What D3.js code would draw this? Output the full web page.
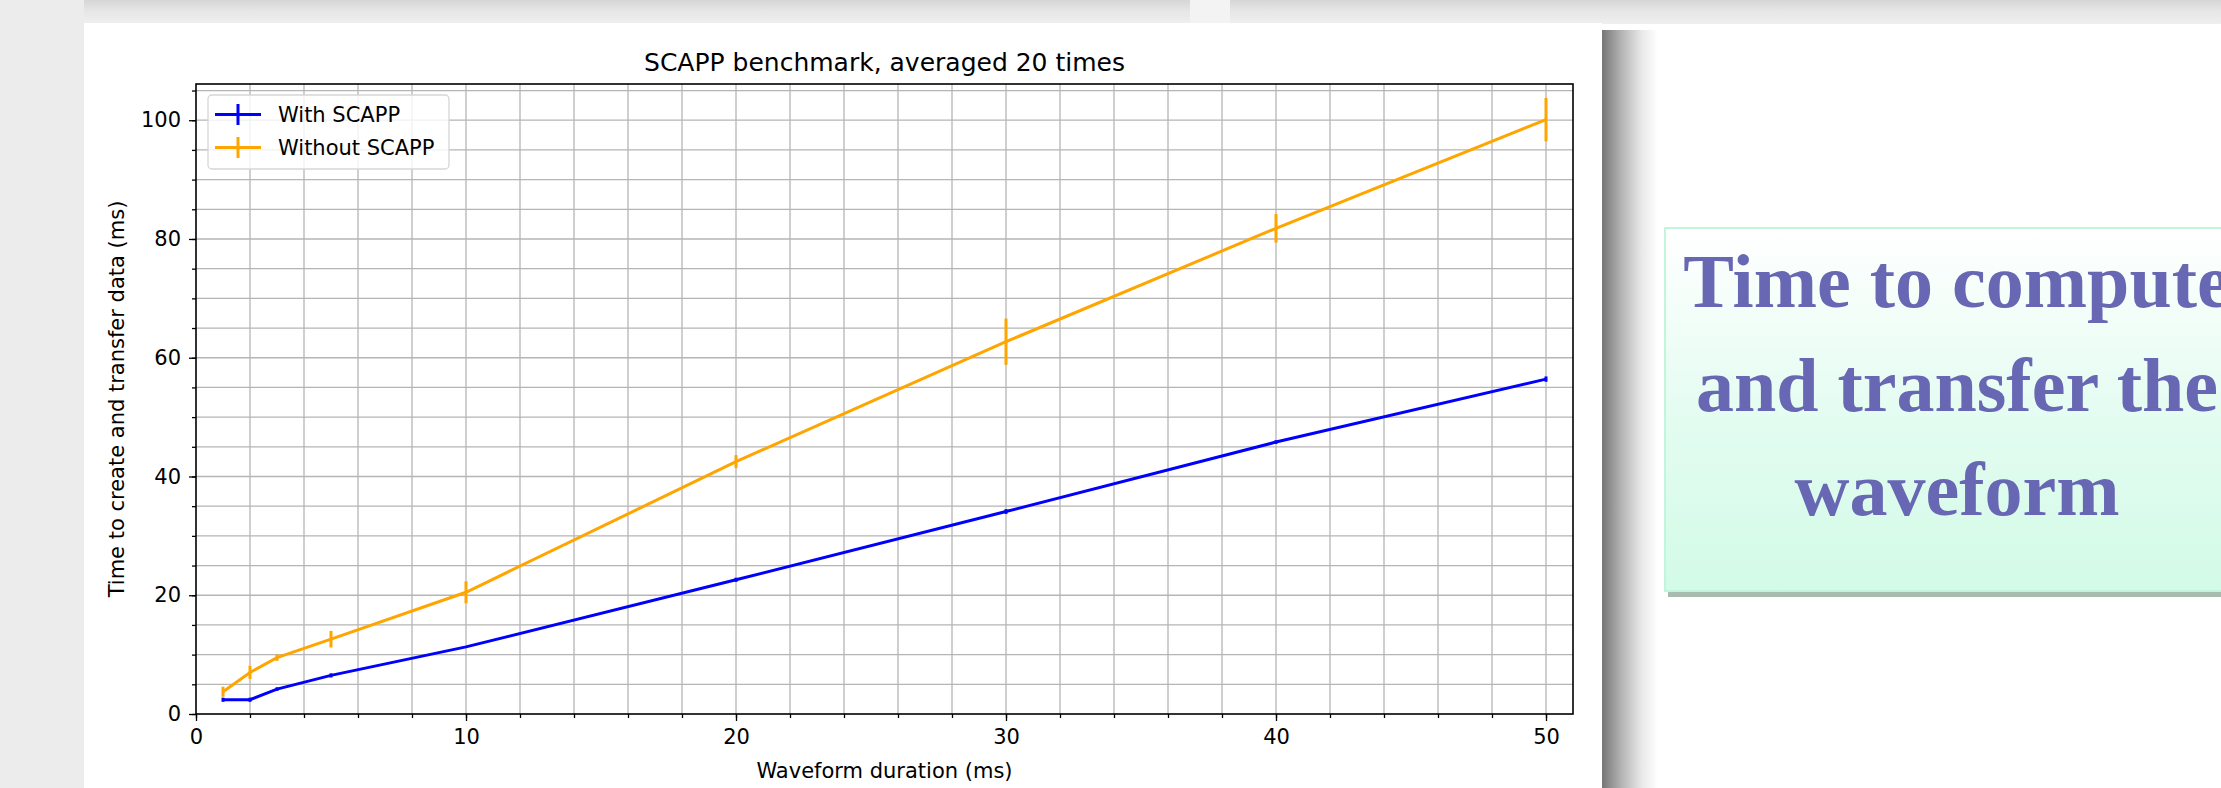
<!DOCTYPE html>
<html>
<head>
<meta charset="utf-8">
<script src="https://cdn.jsdelivr.net/npm/d3@7"></script>
<style>
  html, body { margin: 0; padding: 0; background: #fff; }
  svg { display: block; }
  .tick text { font-family: "DejaVu Sans", sans-serif; }
</style>
</head>
<body>
<div id="chart"></div>
<script>
// waveform durations (ms) measured
var durations = [1, 2, 3, 5, 10, 20, 30, 40, 50];
// mean time (ms) and std, 20 runs
var withScapp = [2.4, 2.4, 4.2, 6.5, 11.3, 22.6, 34.1, 45.8, 56.4];
var withScappErr = [0.35, 0.35, 0.3, 0.35, 0.15, 0.35, 0.4, 0.3, 0.45];
var withoutScapp = [3.75, 7.0, 9.5, 12.6, 20.5, 42.5, 62.7, 81.8, 100.1];
var withoutScappErr = [0.85, 1.1, 0.55, 1.4, 1.85, 1.1, 3.9, 2.4, 3.65];
var seriesNames = ["With SCAPP", "Without SCAPP"];
var seriesColors = ["#0000ff", "#ffa500"];
var xTicks = [0, 10, 20, 30, 40, 50];
var yTicks = [0, 20, 40, 60, 80, 100];
var sideText = ["Time to compute", "and transfer the", "waveform"];

var W = 2221, H = 788;
var box = {l: 196, r: 1573, t: 84, b: 714};

var svg = d3.select("#chart").append("svg").attr("width", W).attr("height", H);
var defs = svg.append("defs");

// ---- slide background
var topGrad = defs.append("linearGradient").attr("id", "topGrad")
        .attr("x1", 0).attr("y1", 0).attr("x2", 0).attr("y2", 1);
topGrad.append("stop").attr("offset", "0%").attr("stop-color", "#d6d6d6");
topGrad.append("stop").attr("offset", "45%").attr("stop-color", "#e6e6e6");
topGrad.append("stop").attr("offset", "100%").attr("stop-color", "#efefef");
var shadowGrad = defs.append("linearGradient").attr("id", "shadowGrad")
        .attr("x1", 0).attr("y1", 0).attr("x2", 1).attr("y2", 0);
shadowGrad.append("stop").attr("offset", "0%").attr("stop-color", "#767676");
shadowGrad.append("stop").attr("offset", "35%").attr("stop-color", "#b4b4b4");
shadowGrad.append("stop").attr("offset", "70%").attr("stop-color", "#e8e8e8");
shadowGrad.append("stop").attr("offset", "100%").attr("stop-color", "#ffffff");
var boxGrad = defs.append("linearGradient").attr("id", "boxGrad")
        .attr("x1", 0).attr("y1", 0).attr("x2", 0).attr("y2", 1);
boxGrad.append("stop").attr("offset", "0%").attr("stop-color", "#ffffff");
boxGrad.append("stop").attr("offset", "55%").attr("stop-color", "#e2fcf0");
boxGrad.append("stop").attr("offset", "100%").attr("stop-color", "#d3fbe7");

svg.append("rect").attr("width", W).attr("height", H).attr("fill", "#ffffff");
svg.append("rect").attr("x", 0).attr("y", 0).attr("width", W).attr("height", 24).attr("fill", "url(#topGrad)");
svg.append("rect").attr("x", 1190).attr("y", 0).attr("width", 40).attr("height", 24).attr("fill", "#f3f3f3");
svg.append("rect").attr("x", 0).attr("y", 0).attr("width", 84).attr("height", H).attr("fill", "#ececec");
svg.append("rect").attr("x", 1602).attr("y", 30).attr("width", 56).attr("height", H - 30).attr("fill", "url(#shadowGrad)");
// white picture panel
svg.append("rect").attr("x", 84).attr("y", 23).attr("width", 1518).attr("height", H - 23).attr("fill", "#ffffff");

// ---- side text box
svg.append("rect").attr("x", 1668).attr("y", 590).attr("width", W - 1668).attr("height", 7).attr("fill", "#a7bcae");
svg.append("rect").attr("x", 1665).attr("y", 228).attr("width", W - 1665 + 10).attr("height", 363)
        .attr("fill", "url(#boxGrad)").attr("stroke", "#c2f6dc").attr("stroke-width", 2);
svg.append("g").selectAll("text").data(sideText).enter().append("text")
        .attr("x", 1957).attr("y", function(d, i){ return 307 + i * 104; })
        .attr("text-anchor", "middle")
        .style("font-family", "'Liberation Serif', serif").style("font-weight", 700)
        .style("font-size", "76px").style("fill", "#6767b3")
        .text(function(d){ return d; });

// ---- chart
var x = d3.scaleLinear().domain([0, 51]).range([box.l, box.r]);
var y = d3.scaleLinear().domain([0, 106.1]).range([box.b, box.t]);
var xMinor = d3.range(0, 51, 2);
var yMinor = d3.range(0, 106, 5);

// grid
var grid = svg.append("g").attr("class", "grid");
grid.selectAll(".vg").data(xMinor.filter(function(v){ return v > 0; })).enter().append("line")
        .attr("x1", function(d){ return x(d); }).attr("x2", function(d){ return x(d); })
        .attr("y1", box.t).attr("y2", box.b)
        .attr("stroke", "#b5b5b5").attr("stroke-width", 1.3);
grid.selectAll(".hg").data(yMinor.filter(function(v){ return v > 0; })).enter().append("line")
        .attr("y1", function(d){ return y(d); }).attr("y2", function(d){ return y(d); })
        .attr("x1", box.l).attr("x2", box.r)
        .attr("stroke", "#b5b5b5").attr("stroke-width", 1.3);

// axes
function styleAxis(g) {
    g.select(".domain").remove();
    g.selectAll(".tick line").attr("stroke", "#000").attr("stroke-width", 1.3);
    g.selectAll(".tick text").style("font-size", "21px").attr("fill", "#000");
}
svg.append("g").attr("transform", "translate(0," + box.b + ")")
        .call(d3.axisBottom(x).tickValues(xMinor).tickSize(4).tickFormat(""))
        .call(styleAxis);
svg.append("g").attr("transform", "translate(0," + box.b + ")")
        .call(d3.axisBottom(x).tickValues(xTicks).tickSize(7).tickPadding(8).tickFormat(d3.format("d")))
        .call(styleAxis);
svg.append("g").attr("transform", "translate(" + box.l + ",0)")
        .call(d3.axisLeft(y).tickValues(yMinor).tickSize(4).tickFormat(""))
        .call(styleAxis);
svg.append("g").attr("transform", "translate(" + box.l + ",0)")
        .call(d3.axisLeft(y).tickValues(yTicks).tickSize(7).tickPadding(8).tickFormat(d3.format("d")))
        .call(styleAxis);

svg.append("rect").attr("x", box.l).attr("y", box.t)
        .attr("width", box.r - box.l).attr("height", box.b - box.t)
        .attr("fill", "none").attr("stroke", "#000").attr("stroke-width", 1.6);

// series
var series = [
    {name: seriesNames[0], color: seriesColors[0], vals: withScapp, err: withScappErr},
    {name: seriesNames[1], color: seriesColors[1], vals: withoutScapp, err: withoutScappErr}
];
var line = d3.line().x(function(d){ return x(d.x); }).y(function(d){ return y(d.y); });
series.forEach(function(s) {
    var pts = durations.map(function(d, i){ return {x: d, y: s.vals[i], e: s.err[i]}; });
    var g = svg.append("g");
    g.append("path").datum(pts).attr("d", line)
            .attr("fill", "none").attr("stroke", s.color).attr("stroke-width", 3);
    g.selectAll("line").data(pts).enter().append("line")
            .attr("x1", function(d){ return x(d.x); }).attr("x2", function(d){ return x(d.x); })
            .attr("y1", function(d){ return y(d.y - d.e); }).attr("y2", function(d){ return y(d.y + d.e); })
            .attr("stroke", s.color).attr("stroke-width", 3);
});

// legend
var lg = svg.append("g");
lg.append("rect").attr("x", 208).attr("y", 95).attr("width", 241).attr("height", 74)
        .attr("rx", 4).attr("fill", "#ffffff").attr("fill-opacity", 0.8)
        .attr("stroke", "#d6d6d6").attr("stroke-width", 1.3);
var items = lg.selectAll(".item").data(series).enter().append("g")
        .attr("transform", function(d, i){ return "translate(0," + (114.5 + i * 33) + ")"; });
items.append("line").attr("x1", 215).attr("x2", 261).attr("y1", 0).attr("y2", 0)
        .attr("stroke", function(d){ return d.color; }).attr("stroke-width", 3);
items.append("line").attr("x1", 238).attr("x2", 238).attr("y1", -10.5).attr("y2", 10.5)
        .attr("stroke", function(d){ return d.color; }).attr("stroke-width", 3);
items.append("text").attr("x", 278).attr("y", 7.5)
        .style("font-family", "'DejaVu Sans', sans-serif").style("font-size", "21px")
        .text(function(d){ return d.name; });

// title and axis labels
svg.append("text").attr("x", (box.l + box.r) / 2).attr("y", 71).attr("text-anchor", "middle")
        .style("font-family", "'DejaVu Sans', sans-serif").style("font-size", "25px")
        .text("SCAPP benchmark, averaged 20 times");
svg.append("text").attr("x", (box.l + box.r) / 2).attr("y", 778).attr("text-anchor", "middle")
        .style("font-family", "'DejaVu Sans', sans-serif").style("font-size", "21px")
        .text("Waveform duration (ms)");
svg.append("text").attr("transform", "translate(124," + ((box.t + box.b) / 2) + ") rotate(-90)")
        .attr("text-anchor", "middle")
        .style("font-family", "'DejaVu Sans', sans-serif").style("font-size", "21px")
        .text("Time to create and transfer data (ms)");
</script>
</body>
</html>
